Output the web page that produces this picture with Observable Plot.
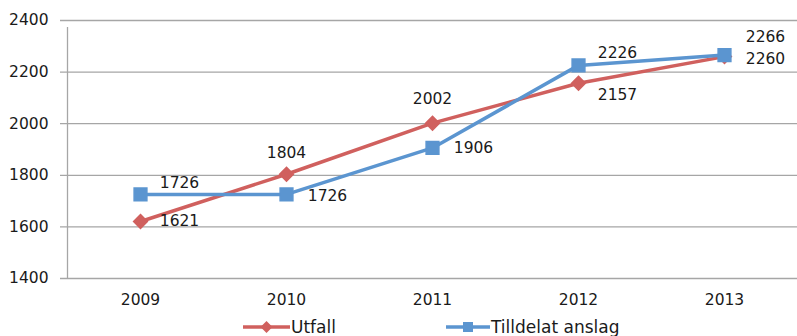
<!DOCTYPE html>
<html><head><meta charset="utf-8">
<script src="https://cdn.jsdelivr.net/npm/d3@7"></script>
<script src="https://cdn.jsdelivr.net/npm/@observablehq/plot@0.6"></script>
<style>
body{margin:0;background:#fff;overflow:hidden;}
#wrap{position:relative;width:797px;height:336px;font-family:"DejaVu Sans",sans-serif;}
#legend{position:absolute;left:0;top:314px;width:797px;height:30px;}
</style></head>
<body><div id="wrap"><div id="chart"></div><div id="legend"></div></div>
<script>
const years = ["2009","2010","2011","2012","2013"];
const utfall = [1621, 1804, 2002, 2157, 2260];
const anslag = [1726, 1726, 1906, 2226, 2266];
const yTicks = [1400, 1600, 1800, 2000, 2200, 2400];
const seriesNames = ["Utfall", "Tilldelat anslag"];

const red = "#d0605e", blue = "#5b95d0";
const ink = "#1a1a1a";
const fs = 15.5;
const rows = [];
years.forEach((yr,i)=>{
  rows.push({year:yr, value:utfall[i], series:seriesNames[0], i});
  rows.push({year:yr, value:anslag[i], series:seriesNames[1], i});
});
const uRows = rows.filter(d=>d.series===seriesNames[0]);
const aRows = rows.filter(d=>d.series===seriesNames[1]);
// label placement offsets (layout, in code)
const uOff = [[39,0],[0,-21],[0,-24],[39,12],[41,2]];
const aOff = [[39,-11],[41,2],[41,0],[39,-12],[41,-18]];

const chart = Plot.plot({
  width: 797, height: 315,
  marginTop: 20, marginBottom: 37, marginLeft: 67, marginRight: 0,
  style:{fontFamily:'"DejaVu Sans",sans-serif', fontSize:fs+"px", color:ink, background:"#fff"},
  x:{type:"point", domain:years, padding:0.5, label:null},
  y:{domain:[1400,2400], label:null},
  marks:[
    Plot.ruleY(yTicks, {stroke:"#a6a6a6", strokeWidth:1.3, insetLeft:-7}),
    Plot.ruleX([0], {x: ()=>years[0], dx:-73, y1:1400, y2:2400, stroke:"#a6a6a6", strokeWidth:1.3, insetBottom:-7}),
    Plot.axisY({ticks:yTicks, tickFormat:d3.format("d"), tickSize:0, tickPadding:19, fontSize:fs, fill:ink}),
    Plot.axisX({tickSize:0, tickPadding:15, fontSize:fs, fill:ink}),
    Plot.line(uRows, {x:"year", y:"value", stroke:red, strokeWidth:3.5}),
    Plot.dot(uRows, {x:"year", y:"value", symbol:"diamond2", r:6.2, fill:red, stroke:red}),
    Plot.line(aRows, {x:"year", y:"value", stroke:blue, strokeWidth:3.5}),
    Plot.dot(aRows, {x:"year", y:"value", symbol:"square", r:7.2, fill:blue, stroke:blue}),
    ...uRows.map((d,k)=>Plot.text([d], {x:"year", y:"value", text:d=>String(d.value), dx:uOff[k][0], dy:uOff[k][1], fontSize:fs, fill:ink})),
    ...aRows.map((d,k)=>Plot.text([d], {x:"year", y:"value", text:d=>String(d.value), dx:aOff[k][0], dy:aOff[k][1], fontSize:fs, fill:ink}))
  ]
});
document.getElementById("chart").appendChild(chart);

// legend
const lg = d3.select("#legend").append("svg").attr("width",797).attr("height",30);
const items = [
  {name:seriesNames[0], color:red, x1:243, x2:290, sym:"diamond"},
  {name:seriesNames[1], color:blue, x1:446, x2:490, sym:"square"}
];
items.forEach(it=>{
  lg.append("line").attr("x1",it.x1).attr("x2",it.x2).attr("y1",13).attr("y2",13).attr("stroke",it.color).attr("stroke-width",3.5);
  const cx=(it.x1+it.x2)/2;
  if(it.sym==="square") lg.append("rect").attr("x",cx-5).attr("y",8).attr("width",10).attr("height",10).attr("fill",it.color);
  else lg.append("path").attr("d",`M${cx},7L${cx+6},13L${cx},19L${cx-6},13Z`).attr("fill",it.color);
  lg.append("text").attr("x",it.x2+1).attr("y",19).attr("font-size",17).attr("fill",ink).attr("font-family",'"DejaVu Sans",sans-serif').text(it.name);
});
</script></body></html>
